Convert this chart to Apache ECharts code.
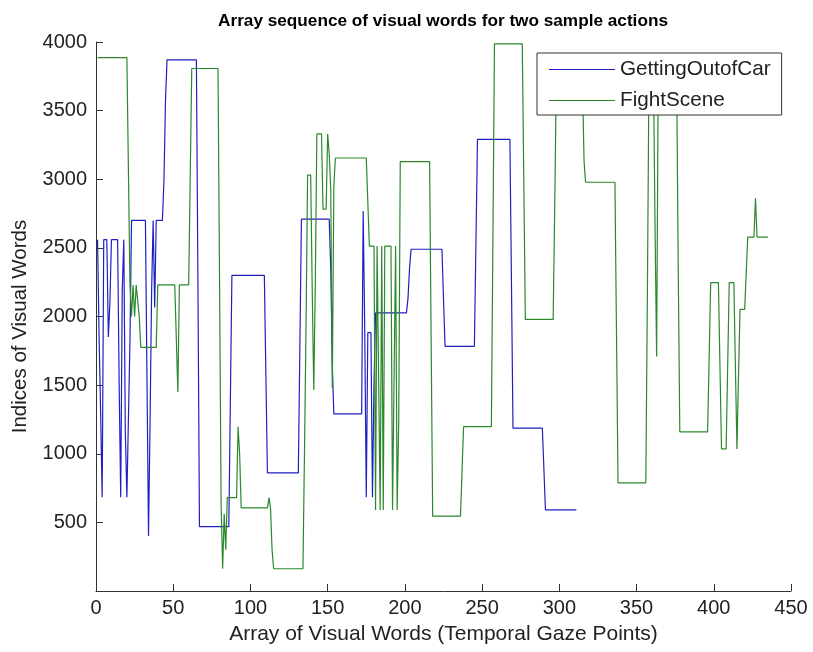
<!DOCTYPE html>
<html>
<head>
<meta charset="utf-8">
<script src="https://cdn.jsdelivr.net/npm/echarts@6/dist/echarts.min.js"></script>
<style>
  html, body { margin: 0; padding: 0; background: #fff; }
  #chart { width: 813px; height: 652px; }
</style>
</head>
<body>
<div id="chart"></div>
<script>
// vertices of each polyline (x = gaze point index, y = word index)
const carX = [1, 2, 3, 4, 5, 7, 8, 9, 10, 14, 15, 16, 17, 18, 19, 20, 21, 22, 23, 32, 33, 34, 35, 36, 37, 38, 39, 43, 44, 45, 46,
  65, 66, 67, 86, 87, 88, 109, 110, 111, 131, 132, 133, 151, 152, 153, 154, 172, 173, 174, 175, 176, 178, 179, 180, 181,
  201, 202, 203, 204, 224, 225, 226, 245, 246, 247, 268, 269, 270, 289, 290, 291, 311];
const carY = [2560, 1850, 1300, 683, 2560, 2560, 1850, 2100, 2560, 2560, 1500, 683, 2195, 2560, 1150, 683, 683, 1830, 2700, 2700, 1560, 400, 1230, 2180, 2700, 2065, 2700, 2700, 2990, 3580, 3870,
  3870, 2247, 469, 469, 1387, 2300, 2300, 1569, 860, 860, 1778, 2709, 2709, 2352, 1648, 1290, 1290, 2769, 1900, 683, 1882, 1882, 683, 1500, 2026,
  2026, 2130, 2352, 2490, 2490, 2130, 1783, 1783, 2534, 3291, 3291, 2247, 1186, 1186, 891, 591, 591];

const fightX = [1, 20, 21, 22, 23, 24, 25, 26, 27, 28, 29, 39, 40, 51, 52, 53, 54, 60, 61, 62,
  79, 80, 81, 82, 83, 84, 85, 91, 92, 93, 94, 111, 112, 113, 114, 115, 134, 135, 136, 137, 139, 140, 141, 142, 143, 146, 147, 149, 150, 151, 152, 153, 154, 155,
  175, 176, 177, 180, 181, 182, 183, 184, 185, 186, 187, 191, 192, 193, 194, 195, 196, 197, 216, 217, 218, 236, 237, 238,
  256, 257, 258, 276, 277, 278, 296, 297, 298, 315, 316, 317, 336, 337, 338, 356, 357, 358, 361, 362, 363, 364,
  376, 377, 378, 396, 397, 398, 403, 404, 405, 408, 409, 410, 413, 414, 415, 416, 417, 420, 421, 422, 426, 427, 428, 435];
const fightY = [3886, 3886, 3060, 2230, 2000, 2230, 2000, 2230, 2230, 2000, 1775, 1775, 2230, 2230, 1840, 1450, 2230, 2230, 3010, 3807,
  3807, 2256, 640, 162, 560, 300, 680, 680, 1196, 1000, 605, 605, 680, 605, 300, 162, 162, 1022, 1930, 3030, 3030, 2200, 1465, 2247, 3330, 3330, 2782, 2782, 3330, 3186, 2924, 1478, 2950, 3155,
  3155, 2834, 2513, 2513, 591, 2513, 1548, 591, 2513, 591, 2513, 2513, 591, 1548, 2513, 591, 1230, 3129, 3129, 1830, 545, 545, 877, 1197,
  1197, 2587, 3987, 3987, 2978, 1979, 1979, 2782, 3700, 3700, 3134, 2978, 2978, 1891, 788, 788, 2139, 3700, 3700, 2620, 1709, 3700,
  3700, 2330, 1160, 1160, 1695, 2247, 2247, 1640, 1035, 1035, 1640, 2247, 2247, 1640, 1035, 1560, 2052, 2052, 2313, 2579, 2579, 2861, 2579, 2579];

const seriesNames = ['GettingOutofCar', 'FightScene'];

function pairs(xs, ys) {
  return xs.map((x, i) => [x, ys[i]]);
}

const chart = echarts.init(document.getElementById('chart'));

const fontName = 'Liberation Sans, Arial, sans-serif';
const axisFont = { fontFamily: fontName, color: '#222' };

const option = {
  animation: false,
  title: {
    text: 'Array sequence of visual words for two sample actions',
    left: 438,
    top: 8,
    textAlign: 'center',
    textStyle: { fontFamily: fontName, fontSize: 17.2, fontWeight: 'bold', color: '#000' }
  },
  legend: {
    data: seriesNames,
    orient: 'vertical',
    left: 537,
    top: 53,
    padding: [6, 11, 4, 12],
    icon: 'rect',
    itemWidth: 66,
    itemHeight: 1.2,
    itemGap: 10,
    backgroundColor: '#fff',
    borderColor: '#333',
    borderWidth: 1,
    borderRadius: 0,
    textStyle: { fontFamily: fontName, fontSize: 20.7, color: '#222' }
  },
  grid: { left: 96, right: 22, top: 42, bottom: 61 },
  xAxis: {
    type: 'value',
    min: 0,
    max: 450,
    interval: 50,
    name: 'Array of Visual Words (Temporal Gaze Points)',
    nameLocation: 'middle',
    nameGap: 33,
    nameTextStyle: Object.assign({ fontSize: 21 }, axisFont),
    axisLine: { lineStyle: { color: '#333', width: 1 } },
    axisTick: { inside: true, length: 7, lineStyle: { color: '#333' } },
    axisLabel: Object.assign({ fontSize: 20, margin: 7, formatter: v => String(v) }, axisFont),
    splitLine: { show: false }
  },
  yAxis: {
    type: 'value',
    min: 0,
    max: 4000,
    interval: 500,
    name: 'Indices of Visual Words',
    nameLocation: 'middle',
    nameGap: 65,
    nameTextStyle: Object.assign({ fontSize: 20.5, padding: [0, 20, 0, 0] }, axisFont),
    axisLine: { show: true, lineStyle: { color: '#333', width: 1 } },
    axisTick: { show: true, inside: true, length: 7, lineStyle: { color: '#333' } },
    axisLabel: Object.assign({ fontSize: 20, margin: 9, showMinLabel: false, formatter: v => String(v) }, axisFont),
    splitLine: { show: false }
  },
  series: [
    {
      name: seriesNames[0],
      type: 'line',
      data: pairs(carX, carY),
      symbol: 'none',
      color: '#1f1fc4',
      lineStyle: { width: 1.2, color: '#1f1fc4' }
    },
    {
      name: seriesNames[1],
      type: 'line',
      data: pairs(fightX, fightY),
      symbol: 'none',
      color: '#2b882b',
      lineStyle: { width: 1.2, color: '#2b882b' }
    }
  ]
};

chart.setOption(option);
</script>
</body>
</html>
